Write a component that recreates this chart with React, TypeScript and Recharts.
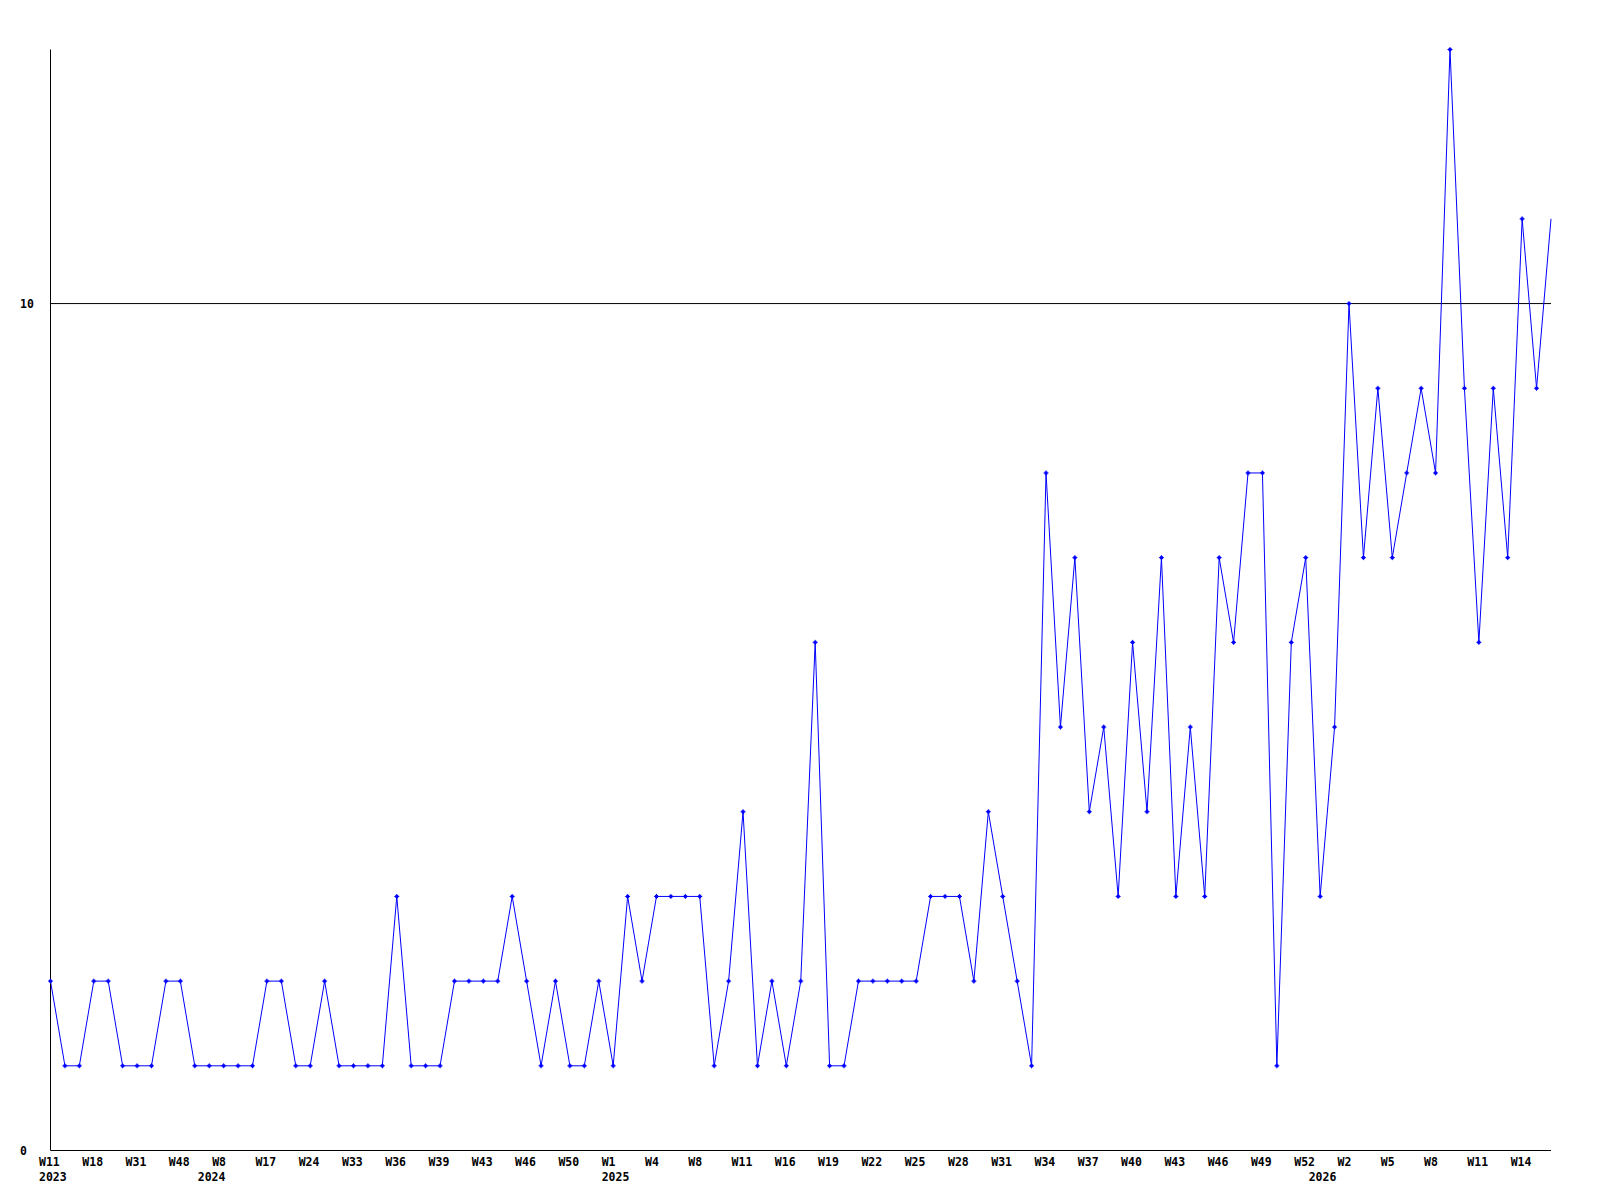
import React from "react";
import { LineChart, Line, XAxis, YAxis, ReferenceLine } from "recharts";

// week label for each point (only every third one is shown on the axis)
const weeks = [
  "W11", "W13", "W15", "W18", "W20", "W26", "W31", "W37", "W42", "W48",
  "W51", "W3", "W8", "W10", "W14", "W17", "W19", "W22", "W24", "W27",
  "W30", "W33", "W34", "W35", "W36", "W37", "W38", "W39", "W40", "W42",
  "W43", "W44", "W45", "W46", "W47", "W49", "W50", "W51", "W52", "W1",
  "W2", "W3", "W4", "W5", "W7", "W8", "W9", "W10", "W11", "W12",
  "W14", "W16", "W17", "W18", "W19", "W20", "W21", "W22", "W23", "W24",
  "W25", "W26", "W27", "W28", "W29", "W30", "W31", "W32", "W33", "W34",
  "W35", "W36", "W37", "W38", "W39", "W40", "W41", "W42", "W43", "W44",
  "W45", "W46", "W47", "W48", "W49", "W50", "W51", "W52", "W1", "W1",
  "W2", "W3", "W4", "W5", "W6", "W7", "W8", "W9", "W10", "W11",
  "W12", "W13", "W14", "W15", "W16",
];

const counts = [
  2, 1, 1, 2, 2, 1, 1, 1, 2, 2,
  1, 1, 1, 1, 1, 2, 2, 1, 1, 2,
  1, 1, 1, 1, 3, 1, 1, 1, 2, 2,
  2, 2, 3, 2, 1, 2, 1, 1, 2, 1,
  3, 2, 3, 3, 3, 3, 1, 2, 4, 1,
  2, 1, 2, 6, 1, 1, 2, 2, 2, 2,
  2, 3, 3, 3, 2, 4, 3, 2, 1, 8,
  5, 7, 4, 5, 3, 6, 4, 7, 3, 5,
  3, 7, 6, 8, 8, 1, 6, 7, 3, 5,
  10, 7, 9, 7, 8, 9, 8, 13, 9, 6,
  9, 7, 11, 9, 11,
];

const yearLabels = ["2023", "2024", "2025", "2026"];
const yearStartIdx = [0, 11, 39, 88];

const yTicks = [0, 10];

const data = counts.map((v, i) => ({ i, v }));
const weekTicks = weeks.map((_, i) => i).filter((i) => i % 3 === 0);

const FONT = "'DejaVu Sans Mono', 'Liberation Mono', monospace";

function WeekTick({ x, y, payload }: any) {
  return (
    <text x={x - 11.5} y={y + 11.5} textAnchor="start" dominantBaseline="central"
      fontFamily={FONT} fontSize={11.5} fontWeight="bold" fill="#000">
      {weeks[payload.value]}
    </text>
  );
}

function YearTick({ x, y, payload }: any) {
  const k = yearStartIdx.indexOf(payload.value);
  return (
    <text x={x - 11.5} y={y + 11.5} textAnchor="start" dominantBaseline="central"
      fontFamily={FONT} fontSize={11.5} fontWeight="bold" fill="#000">
      {yearLabels[k]}
    </text>
  );
}

function CountTick({ x, y, payload }: any) {
  return (
    <text x={x - 30.5} y={y} textAnchor="start" dominantBaseline="central"
      fontFamily={FONT} fontSize={11.5} fontWeight="bold" fill="#000">
      {payload.value}
    </text>
  );
}

function Marker({ cx, cy, index }: any) {
  if (index === counts.length - 1 || cx == null) return null;
  return (
    <g key={index}>
      <rect x={cx - 1.5} y={cy - 1.5} width={3} height={3} fill="#0000ff" />
      <path d={`M${cx - 2.5},${cy}h5M${cx},${cy - 2.5}v5`} stroke="#0000ff" strokeWidth={1} />
    </g>
  );
}

export default function App() {
  return (
    <div style={{ position: "absolute", left: 0, top: 0, background: "#fff" }}>
      <LineChart width={1600} height={1200} data={data}
        margin={{ top: 49.5, right: 49, left: 0, bottom: 19.5 }}>
        <XAxis dataKey="i" type="number" domain={[0, counts.length - 1]} ticks={weekTicks}
          interval={0} tick={<WeekTick />} tickLine={false} tickSize={0} tickMargin={0}
          axisLine={{ stroke: "#000", strokeWidth: 1 }} height={15} />
        <XAxis xAxisId="year" dataKey="i" type="number" domain={[0, counts.length - 1]}
          ticks={yearStartIdx} interval={0} tick={<YearTick />} tickLine={false}
          tickSize={0} tickMargin={0} axisLine={false} height={15} />
        <YAxis domain={[0, 13]} ticks={yTicks} interval={0} tick={<CountTick />}
          tickLine={false} tickSize={0} tickMargin={0} width={50.5}
          axisLine={{ stroke: "#000", strokeWidth: 1 }} />
        <ReferenceLine y={10} stroke="#000" strokeWidth={1} />
        <Line type="linear" dataKey="v" stroke="#0000ff" strokeWidth={1}
          dot={<Marker />} activeDot={false} isAnimationActive={false} />
      </LineChart>
    </div>
  );
}
